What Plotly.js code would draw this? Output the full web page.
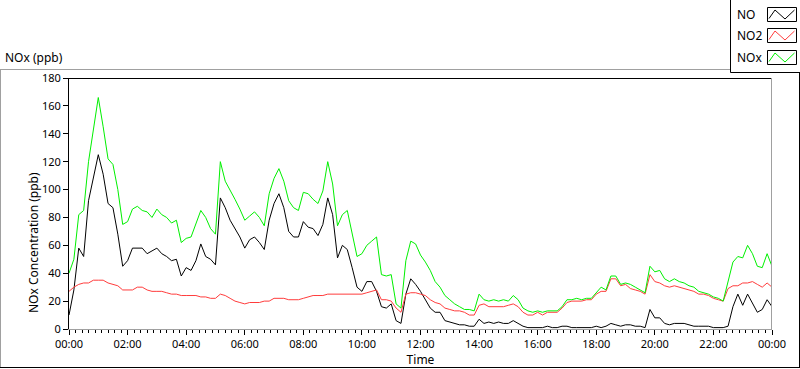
<!DOCTYPE html>
<html><head><meta charset="utf-8">
<script src="https://cdn.plot.ly/plotly-3.0.1.min.js"></script>
<style>html,body{margin:0;padding:0;background:#fff;}#chart{width:800px;height:369px;}</style>
</head><body><div id="chart"></div>
<script>
// ---- data (10-minute samples, 00:00 .. 24:00) ----
const startTime = '2020-01-01 00:00';
const endTime = '2020-01-02 00:00';
const stepMinutes = 10;
const seriesNames = ['NO', 'NO2', 'NOx'];
const noValues = [
 10,28,58,52,92,109,125,111,90,87,
 68,45,49,58,58,58,54,56,58,54,
 52,49,50,38,44,42,49,61,52,50,
 46,94,87,78,72,66,58,64,66,62,
 57,78,90,97,87,70,66,66,77,73,
 72,67,75,94,82,51,60,57,44,30,
 27,34,34,27,16,15,18,6,4,25,
 36,32,27,21,15,12,12,6,5,4,
 3,3,2,2,7,4,5,4,5,4,
 4,6,4,2,1,1,1,1,2,1,
 1,2,2,1,1,1,1,1,2,1,
 2,4,3,2,3,3,2,2,1,14,
 8,8,4,3,4,4,4,3,2,2,
 2,2,1,1,1,2,16,25,17,25,
 18,12,14,21,16];
const no2Values = [
 27,30,32,33,33,35,35,35,33,32,
 31,28,28,28,30,30,28,27,27,27,
 26,25,25,24,24,24,24,23,23,22,
 22,25,24,22,20,19,18,19,19,19,
 20,20,22,22,22,21,21,21,22,23,
 24,24,24,25,25,25,25,25,25,25,
 25,26,27,28,21,21,20,15,12,25,
 26,26,25,24,21,19,18,15,14,13,
 13,12,10,10,17,18,16,16,16,16,
 17,18,16,12,10,10,12,10,12,12,
 12,15,19,20,20,20,21,21,25,27,
 27,36,36,31,32,29,28,27,25,39,
 34,33,31,30,31,30,29,28,27,25,
 25,24,22,21,20,29,31,31,33,33,
 34,32,30,33,30];
const noxValues = [
 40,50,82,85,120,143,166,145,122,118,
 100,75,77,86,88,85,84,80,86,82,
 80,76,78,62,65,66,76,85,80,72,
 68,120,106,100,93,86,78,81,84,80,
 74,97,108,115,106,92,87,85,98,97,
 93,90,99,120,104,74,82,85,68,52,
 54,60,63,66,39,38,39,18,15,49,
 63,61,53,48,42,34,30,24,21,18,
 16,14,14,13,25,21,20,21,20,21,
 20,24,21,15,13,12,13,12,13,13,
 13,16,21,21,22,21,22,22,26,30,
 28,38,38,32,33,32,30,28,26,45,
 41,42,36,34,36,34,33,31,30,27,
 26,25,23,22,20,33,48,52,51,60,
 54,45,44,54,45];
const seriesColors = ['#000000', '#ff3c3c', '#00f000'];

function sampleTimes(n) {
  const out = [];
  for (let i = 0; i < n; i++) {
    const d = new Date(Date.UTC(2020, 0, 1, 0, i * stepMinutes));
    out.push(d.toISOString().slice(0, 16).replace('T', ' '));
  }
  return out;
}
const times = sampleTimes(noValues.length);

// ---- geometry helpers (pixel -> paper) ----
const W = 800, H = 369;
const M = {l: 69, r: 28, t: 78, b: 40};
const PW = W - M.l - M.r, PH = H - M.t - M.b;
const px = v => (v - M.l) / PW;
const py = v => (H - M.b - v) / PH;

const FONT = 'Noto Sans, DejaVu Sans, sans-serif';

const traces = [noValues, no2Values, noxValues].map((vals, k) => ({
  type: 'scatter', mode: 'lines', name: seriesNames[k],
  x: times, y: vals,
  line: {color: seriesColors[k], width: 1},
  hoverinfo: 'skip'
}));

function line(x0, y0, x1, y1, color) {
  return {type: 'line', xref: 'paper', yref: 'paper', x0: px(x0), y0: py(y0), x1: px(x1), y1: py(y1),
          line: {color: color, width: 1}, layer: 'above'};
}
function rect(x0, y0, x1, y1, color, fill) {
  return {type: 'rect', xref: 'paper', yref: 'paper', x0: px(x0), y0: py(y0), x1: px(x1), y1: py(y1),
          line: {color: color, width: 1}, fillcolor: fill || 'rgba(0,0,0,0)', layer: 'above'};
}
function zig(x0, y0, color) {
  const pts = [[x0, y0 + 10], [x0 + 6, y0 + 1.5], [x0 + 16, y0 + 10.5], [x0 + 25.5, y0 + 1.5]];
  const path = pts.map((p, i) => (i ? 'L' : 'M') + px(p[0]) + ',' + py(p[1])).join(' ');
  return {type: 'path', xref: 'paper', yref: 'paper', path: path, line: {color: color, width: 1}, layer: 'above'};
}

const shapes = [
  // outer frame
  line(0, 69.5, 800, 69.5, '#a0a0a0'),
  line(0.5, 69, 0.5, 368, '#a0a0a0'),
  line(0, 367.5, 800, 367.5, '#000000'),
  line(799.5, 69, 799.5, 368, '#000000'),
  // plot box top & right
  line(69, 78.5, 772, 78.5, '#000000'),
  line(771.5, 78, 771.5, 329, '#a0a0a0'),
  // legend box
  rect(730.5, -2, 802, 72.5, '#000000', '#ffffff'),
  rect(767.5, 7.5, 796.5, 21.5, '#000000', '#ffffff'),
  rect(767.5, 28.5, 796.5, 42.5, '#000000', '#ffffff'),
  rect(767.5, 50.5, 796.5, 64.5, '#000000', '#ffffff'),
  zig(769, 8.5, seriesColors[0]),
  zig(769, 29.5, seriesColors[1]),
  zig(769, 51.5, seriesColors[2])
];

function label(text, x, y, extra) {
  return Object.assign({text: text, xref: 'paper', yref: 'paper', x: px(x), y: py(y),
    xanchor: 'left', yanchor: 'middle', showarrow: false,
    font: {family: FONT, size: 12, color: '#000'}}, extra || {});
}

const annotations = [
  label('NOx Concentration (ppb)', 33, 243, {textangle: -90, xanchor: 'center'}),
  label(seriesNames[0], 735, 14),
  label(seriesNames[1], 735, 35.5),
  label(seriesNames[2], 735, 57.5)
];

const layout = {
  width: W, height: H,
  margin: {l: M.l, r: M.r, t: M.t, b: M.b, pad: 0},
  paper_bgcolor: '#ffffff', plot_bgcolor: '#ffffff',
  showlegend: false,
  title: {text: 'NOx (ppb)', x: 5 / W, xanchor: 'left', xref: 'container', y: 1 - 58 / H, yanchor: 'middle',
          yref: 'container', font: {family: FONT, size: 12, color: '#000'}},
  xaxis: {
    type: 'date', range: [startTime, endTime], tick0: startTime, dtick: 7200000, tickformat: '%H:%M',
    ticks: 'outside', ticklen: 5, tickcolor: '#000', tickwidth: 1,
    showline: true, linecolor: '#a0a0a0', linewidth: 1, showgrid: false, zeroline: false,
    tickfont: {family: FONT, size: 11, color: '#000'},
    title: {text: 'Time', font: {family: FONT, size: 12, color: '#000'}, standoff: 2},
    minor: {dtick: 800000, tick0: startTime, ticks: 'outside', ticklen: 3, tickcolor: '#000', showgrid: false}
  },
  yaxis: {
    range: [0, 180], dtick: 20, tick0: 0,
    ticks: 'outside', ticklen: 5, tickcolor: '#000', tickwidth: 1,
    showline: true, linecolor: '#000', linewidth: 1, showgrid: false, zeroline: false,
    tickfont: {family: FONT, size: 11, color: '#000'}
  },
  shapes: shapes,
  annotations: annotations
};

Plotly.newPlot('chart', traces, layout, {displayModeBar: false, staticPlot: true});
</script>
</body></html>
